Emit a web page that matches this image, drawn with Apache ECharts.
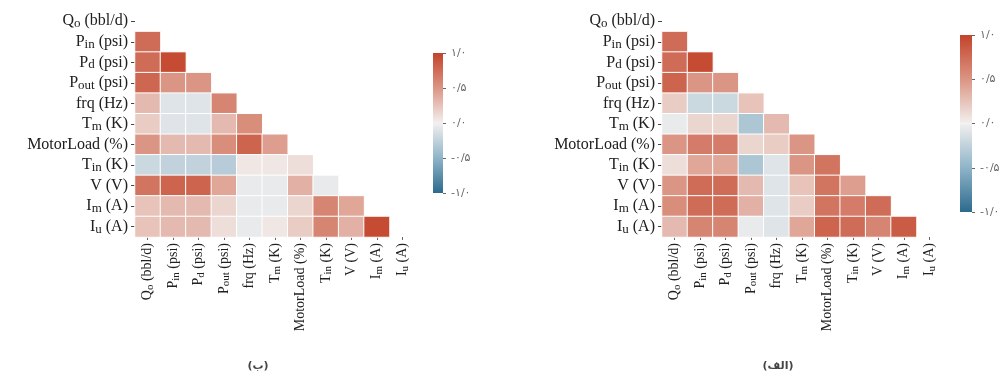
<!DOCTYPE html>
<html>
<head>
<meta charset="utf-8">
<script src="https://cdn.jsdelivr.net/npm/echarts@6/dist/echarts.min.js"></script>
<style>
  html, body { margin: 0; padding: 0; background: #fff; }
  #chart { width: 1005px; height: 376px; }
</style>
</head>
<body>
<div id="chart"></div>
<script>
// Variable names; "_xx" marks a subscript
const variables = [
  'Q_o (bbl/d)', 'P_in (psi)', 'P_d (psi)', 'P_out (psi)', 'frq (Hz)', 'T_m (K)',
  'MotorLoad (%)', 'T_in (K)', 'V (V)', 'I_m (A)', 'I_u (A)'
];

// Lower-triangle correlation rows (row i holds correlations with columns 0..i-1)
const corrB = [
  [],
  [0.75],
  [0.75, 0.95],
  [0.78, 0.50, 0.50],
  [0.30, -0.10, -0.10, 0.60],
  [0.20, -0.10, -0.10, 0.30, 0.55],
  [0.50, 0.30, 0.30, 0.55, 0.80, 0.45],
  [-0.20, -0.25, -0.25, -0.30, 0.05, 0.05, 0.10],
  [0.70, 0.80, 0.80, 0.40, -0.05, -0.05, 0.35, -0.05],
  [0.25, 0.30, 0.30, 0.15, -0.05, -0.05, 0.15, 0.60, 0.40],
  [0.25, 0.30, 0.30, 0.10, -0.05, 0.05, 0.20, 0.60, 0.35, 0.95]
];

const corrA = [
  [],
  [0.75],
  [0.75, 0.95],
  [0.80, 0.50, 0.50],
  [0.20, -0.20, -0.20, 0.25],
  [-0.05, 0.15, 0.15, -0.35, 0.30],
  [0.50, 0.65, 0.65, 0.15, 0.20, 0.50],
  [0.10, 0.40, 0.40, -0.35, -0.10, 0.50, 0.70],
  [0.50, 0.75, 0.75, 0.30, -0.10, 0.25, 0.70, 0.45],
  [0.55, 0.75, 0.75, 0.35, -0.10, 0.20, 0.70, 0.65, 0.75],
  [0.30, 0.60, 0.60, -0.05, -0.10, 0.40, 0.80, 0.75, 0.60, 0.85]
];

// Colour bar ticks
const colorTicks = [-1, -0.5, 0, 0.5, 1];
const captions = ['(ب)', '(الف)'];

// Diverging palette, blue (-1) -> light (0) -> red (+1)
const palette = ['#2c6a8c', '#8fb4c9', '#f2f0ef', '#db9584', '#c3432a'];

function toCells(rows) {
  const out = [];
  rows.forEach((row, i) => row.forEach((v, j) => out.push([j, i, v])));
  return out;
}

const persianDigits = '۰۱۲۳۴۵۶۷۸۹';
function persianNum(v) {
  const s = Math.abs(v).toFixed(1).replace('.', '/')
    .replace(/[0-9]/g, d => persianDigits[+d]);
  return (v < 0 ? '-' : '') + s;
}
function subLabel(name) {
  return name.replace(/_(\w+)/, '{s|$1}');
}

const serif = '"Liberation Serif", "Times New Roman", serif';
const textColor = '#202020';
const richSubY = { s: { fontSize: 13, fontFamily: serif, color: textColor, verticalAlign: 'bottom', padding: [5, 0, 0, 0] } };
const richSubX = { s: { fontSize: 11, fontFamily: serif, color: textColor, verticalAlign: 'bottom', padding: [5, 0, 0, 0] } };

// Heatmap grids and colour bar grids
const heatGrids = [
  { left: 135, top: 11, width: 280, height: 226 },
  { left: 662, top: 11, width: 280, height: 226 }
];
const barGrids = [
  { left: 433, top: 53, width: 10, height: 140 },
  { left: 960, top: 35, width: 12, height: 177 }
];

const grid = [], xAxis = [], yAxis = [], series = [];

[corrB, corrA].forEach((rows, k) => {
  grid.push(heatGrids[k]);
  xAxis.push({
    type: 'category', gridIndex: grid.length - 1, data: variables,
    axisLine: { show: false },
    axisTick: { show: true, alignWithLabel: true, length: 3, lineStyle: { color: '#666' } },
    axisLabel: {
      rotate: 90, margin: 6, interval: 0, color: textColor, fontSize: 14, fontFamily: serif,
      formatter: subLabel, rich: richSubX
    },
    splitLine: { show: false }
  });
  yAxis.push({
    type: 'category', gridIndex: grid.length - 1, data: variables, inverse: true,
    axisLine: { show: false },
    axisTick: { show: true, alignWithLabel: true, length: 4, lineStyle: { color: '#444' } },
    axisLabel: {
      margin: 7, interval: 0, color: textColor, fontSize: 16, fontFamily: serif,
      formatter: subLabel, rich: richSubY
    },
    splitLine: { show: false }
  });
  series.push({
    type: 'heatmap', xAxisIndex: xAxis.length - 1, yAxisIndex: yAxis.length - 1,
    data: toCells(rows),
    itemStyle: { borderColor: '#ffffff', borderWidth: 1 },
    emphasis: { disabled: true }
  });
});

// Colour bars: one bar up to +1, one down to -1, sharing the same slot
barGrids.forEach((g, k) => {
  grid.push(g);
  xAxis.push({ type: 'category', gridIndex: grid.length - 1, data: ['c'], show: false });
  yAxis.push({
    type: 'value', gridIndex: grid.length - 1, min: -1, max: 1, interval: 0.5,
    position: 'right',
    axisLine: { show: false },
    axisTick: { show: true, length: 3, lineStyle: { color: '#666' } },
    splitLine: { show: false },
    axisLabel: {
      margin: 8, fontSize: 11, color: '#666', fontFamily: '"DejaVu Sans", "Noto Sans", sans-serif',
      formatter: v => colorTicks.includes(v) ? persianNum(v) : ''
    }
  });
  const xi = xAxis.length - 1, yi = yAxis.length - 1;
  series.push({
    type: 'bar', xAxisIndex: xi, yAxisIndex: yi, data: [1], barWidth: '100%', barGap: '-100%',
    silent: true,
    itemStyle: { color: new echarts.graphic.LinearGradient(0, 0, 0, 1, [
      { offset: 0, color: palette[4] }, { offset: 0.5, color: palette[3] }, { offset: 1, color: palette[2] }
    ]) }
  });
  series.push({
    type: 'bar', xAxisIndex: xi, yAxisIndex: yi, data: [-1], barWidth: '100%', barGap: '-100%',
    silent: true,
    itemStyle: { color: new echarts.graphic.LinearGradient(0, 0, 0, 1, [
      { offset: 0, color: palette[2] }, { offset: 0.5, color: palette[1] }, { offset: 1, color: palette[0] }
    ]) }
  });
});

const chart = echarts.init(document.getElementById('chart'), null, { renderer: 'canvas' });
chart.setOption({
  backgroundColor: '#ffffff',
  animation: false,
  grid, xAxis, yAxis, series,
  visualMap: {
    type: 'continuous', show: false, min: -1, max: 1, dimension: 2,
    seriesIndex: [0, 1],
    inRange: { color: palette }
  },
  graphic: [
    { type: 'text', x: 258, y: 361, style: { text: captions[0], align: 'center', fontSize: 11, fontWeight: 'bold', fill: '#444', fontFamily: '"DejaVu Sans", sans-serif' } },
    { type: 'text', x: 778, y: 361, style: { text: captions[1], align: 'center', fontSize: 11, fontWeight: 'bold', fill: '#444', fontFamily: '"DejaVu Sans", sans-serif' } }
  ]
});
</script>
</body>
</html>
